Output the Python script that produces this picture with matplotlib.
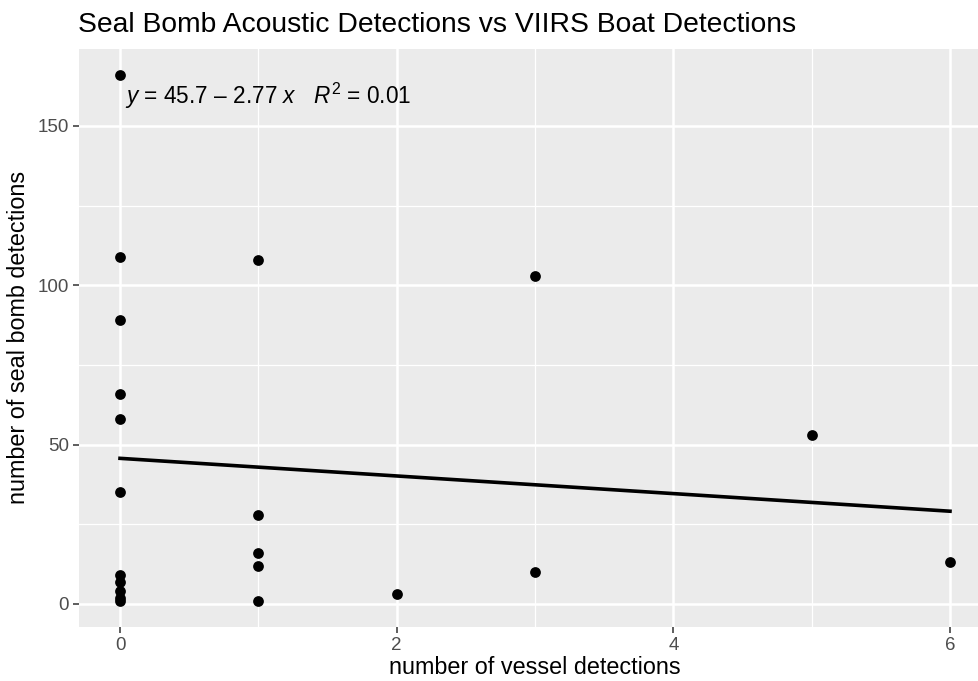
import numpy as np
import matplotlib
matplotlib.use("Agg")
import matplotlib.pyplot as plt
from matplotlib.ticker import MultipleLocator

plt.rcParams['font.family'] = ['Liberation Sans', 'DejaVu Sans']
plt.rcParams['mathtext.fontset'] = 'custom'
plt.rcParams['mathtext.rm'] = 'Liberation Sans'
plt.rcParams['mathtext.it'] = 'Liberation Sans:italic'

# vessel detections (x) and seal bomb detections (y)
vessels = [0, 0, 0, 0, 0, 0, 0, 0, 0, 0, 0,
           1, 1, 1, 1, 1,
           2,
           3, 3,
           5,
           6]
seal_bombs = [166, 109, 89, 66, 58, 35, 9, 7, 4, 2, 1,
              108, 28, 16, 12, 1,
              3,
              103, 10,
              53,
              13]

x = np.array(vessels, dtype=float)
y = np.array(seal_bombs, dtype=float)
slope, intercept = np.polyfit(x, y, 1)
r2 = np.corrcoef(x, y)[0, 1] ** 2

fig = plt.figure(figsize=(9.79, 6.81), dpi=100)
ax = fig.add_axes([78.5 / 979, 1 - 627 / 681, (991.5 - 78.5) / 979, (627 - 48.7) / 681])
ax.set_facecolor('#EBEBEB')
for s in ax.spines.values():
    s.set_visible(False)

ax.xaxis.set_major_locator(MultipleLocator(2))
ax.xaxis.set_minor_locator(MultipleLocator(1))
ax.yaxis.set_major_locator(MultipleLocator(50))
ax.yaxis.set_minor_locator(MultipleLocator(25))
ax.grid(which='major', color='white', linewidth=1.8)
ax.grid(which='minor', color='white', linewidth=0.9)
ax.set_axisbelow(True)

ax.scatter(x, y, s=60, color='black', zorder=3, linewidths=0)
xs = np.array([x.min(), x.max()])
ax.plot(xs, intercept + slope * xs, color='black', linewidth=2.6, zorder=2)

ax.set_xlim(-0.3, 6.3)
ax.set_ylim(-7.25, 174.25)

ax.tick_params(which='major', length=4, width=1.1, color='#333333',
               labelcolor='#4D4D4D', labelsize=13.5, pad=3)
ax.tick_params(which='minor', length=0)

ax.set_xlabel('number of vessel detections', fontsize=16.8, labelpad=2)
ax.set_ylabel('number of seal bomb detections', fontsize=16.8, labelpad=5)
ax.set_title('Seal Bomb Acoustic Detections vs VIIRS Boat Detections',
             fontsize=20.3, loc='left', pad=12)

eq = r'$y$ = %.1f – %.2f $x$   $R^2$ = %.2f' % (intercept, -slope, r2)
ax.text(0.051, 0.945, eq, transform=ax.transAxes, fontsize=16.3, va='top', ha='left')

fig.savefig('out.png', dpi=100)
